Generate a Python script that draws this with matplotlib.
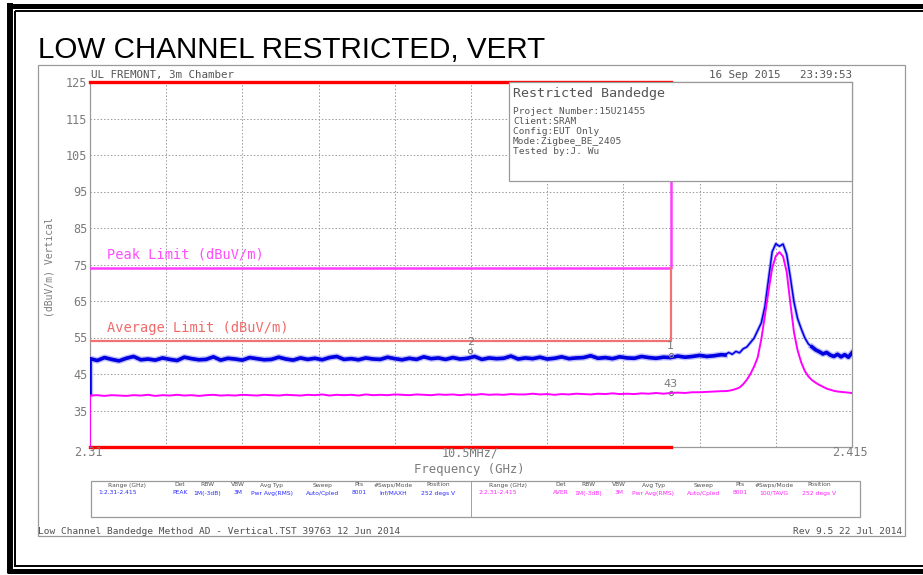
import matplotlib
matplotlib.use("Agg")
import matplotlib.pyplot as plt
from matplotlib.lines import Line2D
from matplotlib.patches import Rectangle
import numpy as np

# ---- sweep settings ----
start_ghz = 2.31
stop_ghz = 2.415
div_mhz = 10.5
band_edge_ghz = 2.39

# trace levels (dBuV/m)
# coarse part: 1 MHz steps from 2.310 to 2.397
peak_base = [
    49.2, 48.7, 49.5, 49.0, 48.6, 49.3, 49.8, 48.9, 49.1, 48.8,
    49.4, 49.0, 48.7, 49.6, 49.2, 48.9, 49.0, 49.7, 48.8, 49.3,
    49.1, 48.8, 49.5, 49.2, 48.9, 49.0, 49.6, 49.1, 48.8, 49.4,
    49.0, 49.3, 48.9, 49.5, 49.8, 49.0, 49.2, 48.9, 49.4, 49.1,
    49.0, 49.6, 49.2, 48.9, 49.3, 49.0, 49.7, 49.2, 49.4, 49.0,
    49.5, 49.1, 49.3, 49.8, 49.0, 49.4, 49.2, 49.3, 49.9, 49.1,
    49.4, 49.2, 49.6, 49.1, 49.3, 49.7, 49.2, 49.4, 49.5, 50.0,
    49.3, 49.5, 49.2, 49.7, 49.4, 49.3, 49.8, 49.5, 49.3, 49.6,
    49.5, 49.9, 49.6, 49.8, 50.1, 49.8, 50.0, 50.3,
]
avg_base = [
    39.1, 39.2, 39.0, 39.2, 39.1, 39.0, 39.2, 39.1, 39.3, 39.0,
    39.2, 39.1, 39.3, 39.1, 39.2, 39.0, 39.2, 39.3, 39.1, 39.2,
    39.1, 39.3, 39.2, 39.1, 39.3, 39.2, 39.1, 39.3, 39.2, 39.1,
    39.3, 39.2, 39.4, 39.1, 39.3, 39.2, 39.3, 39.1, 39.4, 39.2,
    39.3, 39.2, 39.4, 39.3, 39.2, 39.4, 39.3, 39.2, 39.4, 39.3,
    39.4, 39.2, 39.4, 39.3, 39.5, 39.3, 39.4, 39.3, 39.5, 39.4,
    39.4, 39.6, 39.4, 39.5, 39.3, 39.5, 39.4, 39.6, 39.5, 39.4,
    39.6, 39.5, 39.7, 39.5, 39.6, 39.5, 39.7, 39.6, 39.8, 39.6,
    39.8, 39.9, 39.8, 40.0, 40.0, 40.1, 40.2, 40.3,
]
# fine part: 0.5 MHz steps from 2.3975 to 2.415 (carrier)
peak_carrier = [
    50.2, 50.9, 50.4, 51.2, 50.8, 51.9, 52.4, 53.6, 54.8, 56.9,
    59.0, 63.5, 71.0, 78.5, 80.7, 80.0, 80.6, 77.8, 71.5, 64.8,
    60.2, 57.4, 54.9, 53.2, 52.4, 51.6, 51.1, 50.5, 50.9, 50.2,
    49.8, 50.4, 49.7, 50.3, 49.6, 50.8,
]
avg_carrier = [
    40.3, 40.4, 40.6, 40.9, 41.3, 42.2, 43.4, 45.0, 47.0, 49.5,
    54.5, 61.0, 67.8, 74.0, 77.3, 78.4, 77.2, 73.0, 64.5, 56.5,
    51.5, 48.2, 45.8, 44.3, 43.3, 42.6, 42.0, 41.5, 41.0, 40.7,
    40.4, 40.2, 40.1, 40.0, 39.9, 39.8,
]
peak_first = 39.5
avg_first = 25.0

peak_limit = 74
avg_limit = 54
display_top = 125
display_bottom = 25

# markers
marker_freq = [2.39, 2.3624, 2.39]
marker_level = [50.2, 51.2, 39.8]
marker_label = ["1", "2", "43"]

y_ticks = [35, 45, 55, 65, 75, 85, 95, 105, 115, 125]

info_lines = [
    "Project Number:15U21455",
    "Client:SRAM",
    "Config:EUT Only",
    "Mode:Zigbee_BE_2405",
    "Tested by:J. Wu",
]
table_head = ["Range (GHz)", "Det", "RBW", "VBW", "Avg Typ", "Sweep", "Pts",
              "#Swps/Mode", "Position"]
table_row1 = ["1:2.31-2.415", "PEAK", "1M(-3dB)", "3M", "Pwr Avg(RMS)",
              "Auto/Cpled", "8001", "Inf/MAXH", "252 degs V"]
table_row2 = ["2:2.31-2.415", "AVER", "1M(-3dB)", "3M", "Pwr Avg(RMS)",
              "Auto/Cpled", "8001", "100/TAVG", "252 degs V"]

W, H = 923, 575
MONO = "DejaVu Sans Mono"
GRAY = "#7a7a7a"


def fx(x):
    return x / W


def fy(y):
    return 1 - y / H


def fig_line(fig, x0, y0, x1, y1, lw, color="black"):
    fig.add_artist(Line2D([fx(x0), fx(x1)], [fy(y0), fy(y1)],
                          transform=fig.transFigure, lw=lw, color=color,
                          solid_capstyle="butt"))


coarse_f = np.round(np.arange(len(peak_base)) * 0.001 + start_ghz, 4)
fine_f = np.round(np.arange(len(peak_carrier)) * 0.0005 + 2.3975, 5)
freq = np.concatenate([[start_ghz], coarse_f, fine_f])
peak = np.concatenate([[peak_first], peak_base, peak_carrier])
avg = np.concatenate([[avg_first], avg_base, avg_carrier])

fig = plt.figure(figsize=(W / 100, H / 100), dpi=100)

# page frame
fig_line(fig, 7, 5.8, W, 5.8, 3.6)
fig_line(fig, 15, 11, W, 11, 1.4)
fig_line(fig, 10.3, 3, 10.3, 573, 4.3)
fig_line(fig, 15.5, 11, 15.5, 567, 1.4)
fig_line(fig, 7, 570.5, W, 570.5, 3.6)
fig_line(fig, 15, 566, W, 566, 1.4)

fig.text(fx(38), fy(58), "LOW CHANNEL RESTRICTED, VERT", fontsize=21.3,
         family="Liberation Sans", va="baseline", ha="left")

fig.add_artist(Rectangle((fx(38), fy(536)), fx(905) - fx(38), fy(65) - fy(536),
                         transform=fig.transFigure, fill=False,
                         edgecolor="#9a9a9a", lw=0.9))

ax = fig.add_axes([fx(90), fy(447), (852 - 90) / W, (447 - 82) / H])
ax.set_xlim(start_ghz, stop_ghz)
ax.set_ylim(display_bottom, display_top)
grid_f = np.linspace(start_ghz, stop_ghz, 11)
ax.set_xticks(grid_f)
ax.set_xticklabels([])
ax.set_yticks(y_ticks)
ax.set_yticklabels([str(v) for v in y_ticks], family=MONO, fontsize=8.5,
                   color=GRAY)
ax.tick_params(length=0, pad=2)
ax.grid(True, ls=(0, (1.5, 2)), color="#9a9a9a", lw=0.7)
for s in ax.spines.values():
    s.set_color("#9a9a9a")
    s.set_linewidth(0.9)

# limit lines
ax.plot([start_ghz, band_edge_ghz], [display_top, display_top], color="#ff0000",
        lw=2.4, clip_on=False, zorder=4)
ax.plot([start_ghz, band_edge_ghz], [display_bottom, display_bottom],
        color="#ff0000", lw=2.4, clip_on=False, zorder=4)
ax.plot([start_ghz, band_edge_ghz, band_edge_ghz],
        [peak_limit, peak_limit, display_top], color="#ff3cff", lw=1.8, zorder=3)
ax.plot([start_ghz, band_edge_ghz, band_edge_ghz],
        [avg_limit, avg_limit, peak_limit], color="#f07272", lw=1.6, zorder=3)

ax.text(2.3124, peak_limit + 1.8, "Peak Limit (dBuV/m)", family=MONO,
        fontsize=9.8, color="#ff4cff", va="bottom")
ax.text(2.3124, avg_limit + 1.8, "Average Limit (dBuV/m)", family=MONO,
        fontsize=9.8, color="#f06a6a", va="bottom")

# traces: noisy floor drawn heavier than the carrier flanks
n0 = 1 + len(peak_base)
tail = n0 + 24
ax.plot(freq, peak, color="#8c8cff", lw=2.4, alpha=0.7, zorder=5)
ax.plot(freq[:n0 + 1], peak[:n0 + 1], color="#9090ff", lw=4.6, alpha=0.55, zorder=5)
ax.plot(freq[tail:], peak[tail:], color="#9090ff", lw=4.6, alpha=0.55, zorder=5)
ax.plot(freq, peak, color="#0000e6", lw=1.1, zorder=6)
ax.plot(freq[:n0 + 1], peak[:n0 + 1], color="#0000e0", lw=2.6, zorder=6)
ax.plot(freq[tail:], peak[tail:], color="#0000e0", lw=2.6, zorder=6)
ax.plot(freq, avg, color="#ff00ff", lw=1.4, zorder=6)

for f, lv, lab in zip(marker_freq, marker_level, marker_label):
    ax.plot(f, lv, marker="o", ms=3, mfc="none", mec=GRAY, mew=0.8, zorder=7)
    ax.annotate(lab, (f, lv), xytext=(0, 3), textcoords="offset points",
                ha="center", va="bottom", fontsize=8, color=GRAY,
                family="DejaVu Sans", zorder=7)

# axis texts
fig.text(fx(88.5), fy(453), "2.31", family=MONO, fontsize=8.5, color=GRAY,
         ha="center", va="center")
fig.text(fx(850), fy(453), "2.415", family=MONO, fontsize=8.5, color=GRAY,
         ha="center", va="center")
fig.text(fx(470), fy(453), f"{div_mhz}MHz/", family=MONO, fontsize=8.5,
         color=GRAY, ha="center", va="center")
fig.text(fx(469), fy(469), "Frequency (GHz)", family=MONO, fontsize=8.8,
         color=GRAY, ha="center", va="center")
fig.text(fx(50), fy(267), "(dBuV/m) Vertical", family=MONO, fontsize=7,
         color=GRAY, rotation=90, ha="center", va="center")
fig.text(fx(91), fy(78), "UL FREMONT, 3m Chamber", family=MONO, fontsize=7.8,
         color="#555555", va="baseline")
fig.text(fx(852), fy(78), "16 Sep 2015   23:39:53", family=MONO, fontsize=7.8,
         color="#555555", va="baseline", ha="right")

# info box
fig.add_artist(Rectangle((fx(509), fy(181)), fx(852) - fx(509), fy(82) - fy(181),
                         transform=fig.transFigure, facecolor="white",
                         edgecolor="#9a9a9a", lw=0.9, zorder=5))
fig.text(fx(513), fy(93), "Restricted Bandedge", family=MONO, fontsize=9.6,
         color="#555555", va="center", zorder=6)
for i, line in enumerate(info_lines):
    fig.text(fx(513), fy(111.5 + 10 * i), line, family=MONO, fontsize=6.8,
             color="#555555", va="center", zorder=6)

# settings table
fig.add_artist(Rectangle((fx(90.5), fy(517)), fx(860) - fx(90.5), fy(481) - fy(517),
                         transform=fig.transFigure, fill=False,
                         edgecolor="#9a9a9a", lw=0.9))
fig_line(fig, 471.5, 481, 471.5, 517, 0.65, "#9a9a9a")
col_off = [37, 90, 117, 148, 182, 233, 269, 303, 348]
for x0, row, col in [(90, table_row1, "#2a2aff"), (471, table_row2, "#ff22ff")]:
    for off, head, val in zip(col_off, table_head, row):
        fig.text(fx(x0 + off), fy(485), head, fontsize=4.3, color="#505050",
                 ha="center", va="center")
        if val.startswith(("1:", "2:")):
            fig.text(fx(x0 + 8), fy(493), val, fontsize=4.3, color=col,
                     ha="left", va="center")
        else:
            fig.text(fx(x0 + off), fy(493), val, fontsize=4.3, color=col,
                     ha="center", va="center")

fig.text(fx(38), fy(531), "Low Channel Bandedge Method AD - Vertical.TST 39763 12 Jun 2014",
         family=MONO, fontsize=6.8, color="#505050", va="center")
fig.text(fx(902), fy(531), "Rev 9.5 22 Jul 2014", family=MONO, fontsize=6.8,
         color="#505050", va="center", ha="right")

fig.savefig("out.png", dpi=100)
